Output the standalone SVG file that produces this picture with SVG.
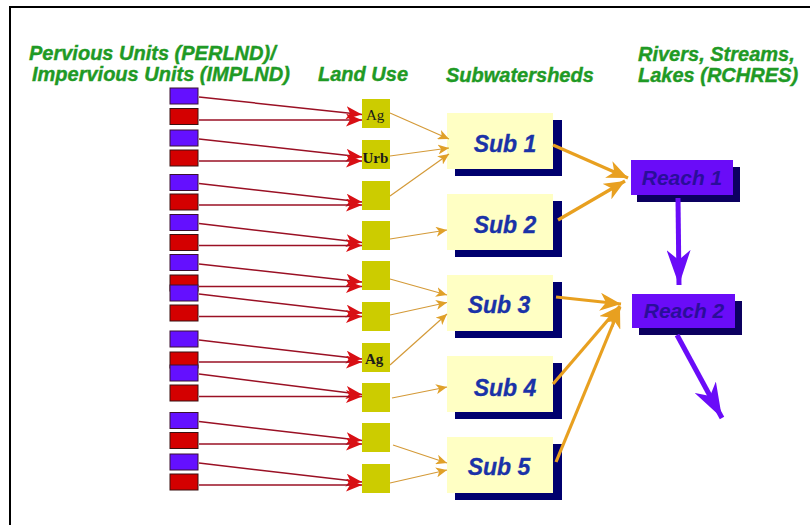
<svg xmlns="http://www.w3.org/2000/svg" width="810" height="525" viewBox="0 0 810 525">
<defs>
<style>
.hdr{font-family:"Liberation Sans",Arial,sans-serif;font-weight:bold;font-style:italic;font-size:20px;fill:#1f9a25;stroke:#1f9a25;stroke-width:0.4}
.perv{fill:#6410ff;stroke:#3a1030;stroke-width:1}
.imp{fill:#d40000;stroke:#3a1010;stroke-width:1}
.land{fill:#cccc00}
.ltxt{font-family:"Liberation Serif","Times New Roman",serif;font-size:15px;fill:#1a1a1a}
.subbox{fill:#ffffc4}
.subshadow{fill:#00006e}
.subtxt{font-family:"Liberation Sans",Arial,sans-serif;font-weight:bold;font-style:italic;font-size:23px;fill:#1a32a8;stroke:#1a32a8;stroke-width:0.3;text-anchor:middle}
.reach{fill:#6a0cf8}
.reachshadow{fill:#0c0060}
.rtxt{font-family:"Liberation Sans",Arial,sans-serif;font-weight:bold;font-style:italic;font-size:21px;fill:#2a0e9a;text-anchor:middle}
.redln{stroke:#9a1024;stroke-width:1.5;fill:none;marker-end:url(#redhead)}
.tanln{stroke:#d49a38;stroke-width:1.2;fill:none;marker-end:url(#tanhead)}
.orln{stroke:#e8a020;stroke-width:3.2;fill:none;marker-end:url(#orhead)}
.puln{stroke:#6a0cf8;stroke-width:5;fill:none;marker-end:url(#puhead)}
</style>
<marker id="redhead" markerUnits="userSpaceOnUse" markerWidth="17" markerHeight="13" refX="16" refY="6.5" orient="auto">
<path d="M0,0 L16,6.5 L0,13 L4,6.5 z" fill="#d80f14"/>
</marker>
<marker id="tanhead" markerUnits="userSpaceOnUse" markerWidth="12" markerHeight="10" refX="11" refY="5" orient="auto">
<path d="M0,0 L11,5 L0,10 L3,5 z" fill="#e0a028"/>
</marker>
<marker id="orhead" markerUnits="userSpaceOnUse" markerWidth="22" markerHeight="18" refX="21" refY="9" orient="auto">
<path d="M0,0 L21,9 L0,18 L6,9 z" fill="#e8a020"/>
</marker>
<marker id="puhead" markerUnits="userSpaceOnUse" markerWidth="36" markerHeight="24" refX="35" refY="12" orient="auto">
<path d="M0,0 L35,12 L0,24 L10,12 z" fill="#6a0cf8"/>
</marker>
</defs>
<rect x="0" y="0" width="810" height="525" fill="#ffffff"/>
<path d="M10,525 L10,7 L810,7" fill="none" stroke="#000" stroke-width="2"/>

<g id="headers">
<text class="hdr" x="29" y="60">Pervious Units (PERLND)/</text>
<text class="hdr" x="32" y="81">Impervious Units (IMPLND)</text>
<text class="hdr" x="318" y="81">Land Use</text>
<text class="hdr" x="446" y="82">Subwatersheds</text>
<text class="hdr" x="638" y="61">Rivers, Streams,</text>
<text class="hdr" x="638" y="82">Lakes (RCHRES)</text>
</g>

<g id="units">
<rect class="perv" x="170" y="88" width="28" height="16"/>
<rect class="imp" x="170" y="108.5" width="28" height="16"/>
<rect class="perv" x="170" y="130" width="28" height="16"/>
<rect class="imp" x="170" y="150" width="28" height="16"/>
<rect class="perv" x="170" y="174.5" width="28" height="16"/>
<rect class="imp" x="170" y="194" width="28" height="16"/>
<rect class="perv" x="170" y="214.5" width="28" height="16"/>
<rect class="imp" x="170" y="234.5" width="28" height="16"/>
<rect class="perv" x="170" y="254.5" width="28" height="16"/>
<rect class="imp" x="170" y="275" width="28" height="16"/>
<rect class="perv" x="170" y="285" width="28" height="16"/>
<rect class="imp" x="170" y="305" width="28" height="16"/>
<rect class="perv" x="170" y="331" width="28" height="16"/>
<rect class="imp" x="170" y="352" width="28" height="16"/>
<rect class="perv" x="170" y="365" width="28" height="16"/>
<rect class="imp" x="170" y="385" width="28" height="16"/>
<rect class="perv" x="170" y="412.5" width="28" height="16"/>
<rect class="imp" x="170" y="432.5" width="28" height="16"/>
<rect class="perv" x="170" y="454" width="28" height="16"/>
<rect class="imp" x="170" y="474" width="28" height="16"/>
</g>

<g id="landuse">
<rect class="land" x="362" y="99" width="28" height="29"/>
<text class="ltxt" x="366" y="120">Ag</text>
<rect class="land" x="362" y="140" width="28" height="29"/>
<text class="ltxt" x="362.5" y="163" font-weight="bold" font-size="14">Urb</text>
<rect class="land" x="362" y="181" width="28" height="29"/>
<rect class="land" x="362" y="221" width="28" height="29"/>
<rect class="land" x="362" y="261" width="28" height="29"/>
<rect class="land" x="362" y="302" width="28" height="29"/>
<rect class="land" x="362" y="343" width="28" height="29"/>
<text class="ltxt" x="365" y="364" font-weight="bold">Ag</text>
<rect class="land" x="362" y="383" width="28" height="29"/>
<rect class="land" x="362" y="423" width="28" height="29"/>
<rect class="land" x="362" y="464" width="28" height="29"/>
</g>

<g id="sub1"><rect class="subshadow" x="455" y="120" width="107" height="56"/><rect class="subbox" x="447" y="113" width="106" height="56"/><text class="subtxt" x="505" y="152">Sub 1</text></g>
<g id="sub2"><rect class="subshadow" x="455" y="201" width="107" height="56"/><rect class="subbox" x="447" y="194" width="106" height="56"/><text class="subtxt" x="505" y="233">Sub 2</text></g>
<g id="sub3"><rect class="subshadow" x="455" y="282" width="107" height="56"/><rect class="subbox" x="447" y="275" width="106" height="56"/><text class="subtxt" x="499" y="313">Sub 3</text></g>
<g id="sub4"><rect class="subshadow" x="455" y="363" width="107" height="56"/><rect class="subbox" x="447" y="356" width="106" height="56"/><text class="subtxt" x="505" y="396">Sub 4</text></g>
<g id="sub5"><rect class="subshadow" x="455" y="444" width="107" height="56"/><rect class="subbox" x="447" y="437" width="106" height="56"/><text class="subtxt" x="499" y="475">Sub 5</text></g>

<g id="reach1"><rect class="reachshadow" x="637" y="167" width="103" height="35"/><rect class="reach" x="631" y="160" width="102" height="35"/><text class="rtxt" x="682" y="185">Reach 1</text></g>
<g id="reach2"><rect class="reachshadow" x="639" y="301" width="103" height="34"/><rect class="reach" x="632" y="294" width="103" height="34"/><text class="rtxt" x="684" y="318">Reach 2</text></g>

<g id="connectors">
<line class="redln" x1="199" y1="97" x2="362" y2="114.5"/>
<line class="redln" x1="199" y1="120" x2="362" y2="120"/>
<line class="redln" x1="199" y1="139" x2="362" y2="157"/>
<line class="redln" x1="199" y1="161" x2="362" y2="161"/>
<line class="redln" x1="199" y1="183.5" x2="362" y2="202"/>
<line class="redln" x1="199" y1="205" x2="362" y2="205"/>
<line class="redln" x1="199" y1="223.5" x2="362" y2="242.5"/>
<line class="redln" x1="199" y1="245.5" x2="362" y2="245.5"/>
<line class="redln" x1="199" y1="264" x2="362" y2="282"/>
<line class="redln" x1="199" y1="286.5" x2="362" y2="286.5"/>
<line class="redln" x1="199" y1="294" x2="362" y2="313"/>
<line class="redln" x1="199" y1="316.5" x2="362" y2="316.5"/>
<line class="redln" x1="199" y1="340" x2="362" y2="359"/>
<line class="redln" x1="199" y1="362" x2="362" y2="362"/>
<line class="redln" x1="199" y1="374" x2="362" y2="394.5"/>
<line class="redln" x1="199" y1="396.5" x2="362" y2="396.5"/>
<line class="redln" x1="199" y1="421.5" x2="362" y2="440.5"/>
<line class="redln" x1="199" y1="444" x2="362" y2="444"/>
<line class="redln" x1="199" y1="463" x2="362" y2="482"/>
<line class="redln" x1="199" y1="485" x2="362" y2="485"/>

<line class="tanln" x1="390" y1="113" x2="449" y2="139"/>
<line class="tanln" x1="390" y1="156" x2="449" y2="148"/>
<line class="tanln" x1="390" y1="196" x2="449" y2="154"/>
<line class="tanln" x1="390" y1="239" x2="447" y2="230"/>
<line class="tanln" x1="390" y1="279" x2="447" y2="295"/>
<line class="tanln" x1="390" y1="315" x2="447" y2="302.5"/>
<line class="tanln" x1="390" y1="365" x2="447" y2="314"/>
<line class="tanln" x1="392" y1="398" x2="447" y2="387"/>
<line class="tanln" x1="393" y1="445" x2="447" y2="463"/>
<line class="tanln" x1="390" y1="483" x2="447" y2="470"/>

<line class="orln" x1="553" y1="145" x2="628" y2="178"/>
<line class="orln" x1="558" y1="220" x2="625" y2="181"/>
<line class="orln" x1="556" y1="297" x2="621" y2="304"/>
<line class="orln" x1="553" y1="384" x2="620" y2="306"/>
<line class="orln" x1="556" y1="462" x2="620" y2="307"/>

<line class="puln" x1="678" y1="198" x2="679" y2="285"/>
<line class="puln" x1="677" y1="335" x2="722" y2="418"/>
</g>
</svg>
